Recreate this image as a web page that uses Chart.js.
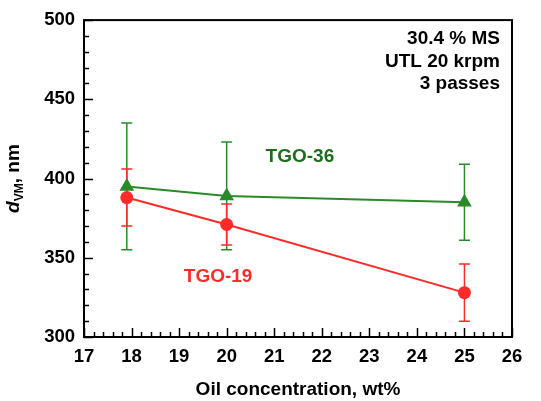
<!DOCTYPE html>
<html>
<head>
<meta charset="utf-8">
<script src="https://cdn.jsdelivr.net/npm/chart.js@4"></script>
<style>
  html, body { margin: 0; padding: 0; background: #fff; }
  #wrap { width: 541px; height: 401px; }
</style>
</head>
<body>
<div id="wrap"><canvas id="chart"></canvas></div>
<script>
// data
const xTGO36 = [17.9, 20, 25];
const yTGO36 = [395, 389, 385];
const errLoTGO36 = [355, 355, 361];
const errHiTGO36 = [435, 423, 409];

const xTGO19 = [17.9, 20, 25];
const yTGO19 = [388, 371, 328];
const errLoTGO19 = [370, 358, 310];
const errHiTGO19 = [406, 384, 346];

const notes = ["30.4 % MS", "UTL 20 krpm", "3 passes"];

const GREEN = "#2a8a2a";
const GREEN_TXT = "#1c6e1c";
const RED = "#ff2a2a";
const FONT = "'Liberation Sans', Arial, sans-serif";

function pts(xs, ys) {
  return xs.map((x, i) => ({ x: x, y: ys[i] }));
}

// error bars, drawn under the markers
const errorBars = {
  id: "errorBars",
  beforeDatasetsDraw(chart) {
    const ctx = chart.ctx;
    const xs = chart.scales.x, ys = chart.scales.y;
    const sets = [
      { x: xTGO36, lo: errLoTGO36, hi: errHiTGO36, c: GREEN },
      { x: xTGO19, lo: errLoTGO19, hi: errHiTGO19, c: RED }
    ];
    ctx.save();
    ctx.lineWidth = 1.5;
    sets.forEach(s => {
      ctx.strokeStyle = s.c;
      s.x.forEach((x, i) => {
        const px = xs.getPixelForValue(x);
        const t = ys.getPixelForValue(s.hi[i]);
        const b = ys.getPixelForValue(s.lo[i]);
        ctx.beginPath();
        ctx.moveTo(px, t); ctx.lineTo(px, b);
        ctx.moveTo(px - 5.5, t); ctx.lineTo(px + 5.5, t);
        ctx.moveTo(px - 5.5, b); ctx.lineTo(px + 5.5, b);
        ctx.stroke();
      });
    });
    ctx.restore();
  }
};

// frame, inward ticks, texts
const decor = {
  id: "decor",
  afterDraw(chart) {
    const ctx = chart.ctx;
    const a = chart.chartArea;
    const xs = chart.scales.x, ys = chart.scales.y;
    ctx.save();
    ctx.strokeStyle = "#000";
    ctx.lineWidth = 2;
    ctx.strokeRect(a.left, a.top, a.right - a.left, a.bottom - a.top);

    ctx.lineWidth = 1.5;
    ctx.beginPath();
    for (let v = 300; v <= 500; v += 10) {
      const py = Math.round(ys.getPixelForValue(v)) + 0.5;
      const len = v % 50 === 0 ? 9 : 5;
      ctx.moveTo(a.left, py); ctx.lineTo(a.left + len, py);
    }
    for (let k = 0; k <= 45; k++) {
      const v = 17 + k * 0.2;
      const px = Math.round(xs.getPixelForValue(v)) + 0.5;
      const len = k % 5 === 0 ? 9 : 5;
      ctx.moveTo(px, a.bottom); ctx.lineTo(px, a.bottom - len);
    }
    ctx.stroke();

    // notes, top right
    ctx.fillStyle = "#000";
    ctx.font = "bold 19px " + FONT;
    ctx.textAlign = "right";
    ctx.textBaseline = "middle";
    notes.forEach((t, i) => ctx.fillText(t, a.right - 12, a.top + 19 + i * 22.5));

    // series labels
    ctx.textAlign = "center";
    ctx.font = "bold 19px " + FONT;
    ctx.fillStyle = GREEN_TXT;
    ctx.fillText("TGO-36", xs.getPixelForValue(21.54), ys.getPixelForValue(414));
    ctx.fillStyle = RED;
    ctx.fillText("TGO-19", xs.getPixelForValue(19.82), ys.getPixelForValue(338));

    // y title with subscript
    ctx.fillStyle = "#000";
    ctx.translate(14, (a.top + a.bottom) / 2);
    ctx.rotate(-Math.PI / 2);
    ctx.textAlign = "left";
    const f1 = "italic bold 19px " + FONT;
    const f2 = "bold 12px " + FONT;
    const f3 = "bold 19px " + FONT;
    ctx.font = f1; const w1 = ctx.measureText("d").width;
    ctx.font = f2; const w2 = ctx.measureText("VM").width;
    ctx.font = f3; const w3 = ctx.measureText(", nm").width;
    let x0 = -(w1 + w2 + w3) / 2;
    ctx.font = f1; ctx.fillText("d", x0, 0);
    ctx.font = f2; ctx.fillText("VM", x0 + w1, 6);
    ctx.font = f3; ctx.fillText(", nm", x0 + w1 + w2, 0);
    ctx.restore();
  }
};

new Chart(document.getElementById("chart"), {
  type: "scatter",
  data: {
    datasets: [
      {
        label: "TGO-36",
        data: pts(xTGO36, yTGO36),
        showLine: true,
        borderColor: GREEN,
        backgroundColor: GREEN,
        borderWidth: 2,
        pointStyle: "triangle",
        pointRadius: 8.5,
        pointBorderWidth: 0
      },
      {
        label: "TGO-19",
        data: pts(xTGO19, yTGO19),
        showLine: true,
        borderColor: RED,
        backgroundColor: RED,
        borderWidth: 2,
        pointStyle: "circle",
        pointRadius: 6.5,
        pointBorderWidth: 0
      }
    ]
  },
  options: {
    responsive: true,
    maintainAspectRatio: false,
    animation: false,
    layout: { padding: { top: 18, right: 29, left: 0, bottom: 0 } },
    plugins: {
      legend: { display: false },
      tooltip: { enabled: false }
    },
    scales: {
      x: {
        type: "linear",
        min: 17, max: 26,
        grid: { display: false, drawTicks: false },
        border: { display: false },
        ticks: {
          stepSize: 1,
          padding: 9,
          color: "#000",
          font: { family: FONT, size: 18.5, weight: "bold" }
        },
        title: {
          display: true,
          text: "Oil concentration, wt%",
          color: "#000",
          padding: { top: 11, bottom: 0 },
          font: { family: FONT, size: 19, weight: "bold" }
        },
        afterFit(s) { s.height = 64; }
      },
      y: {
        min: 300, max: 500,
        grid: { display: false, drawTicks: false },
        border: { display: false },
        ticks: {
          stepSize: 50,
          padding: 9,
          color: "#000",
          font: { family: FONT, size: 18.5, weight: "bold" }
        },
        afterFit(s) { s.width = 84; }
      }
    }
  },
  plugins: [errorBars, decor]
});
</script>
</body>
</html>
